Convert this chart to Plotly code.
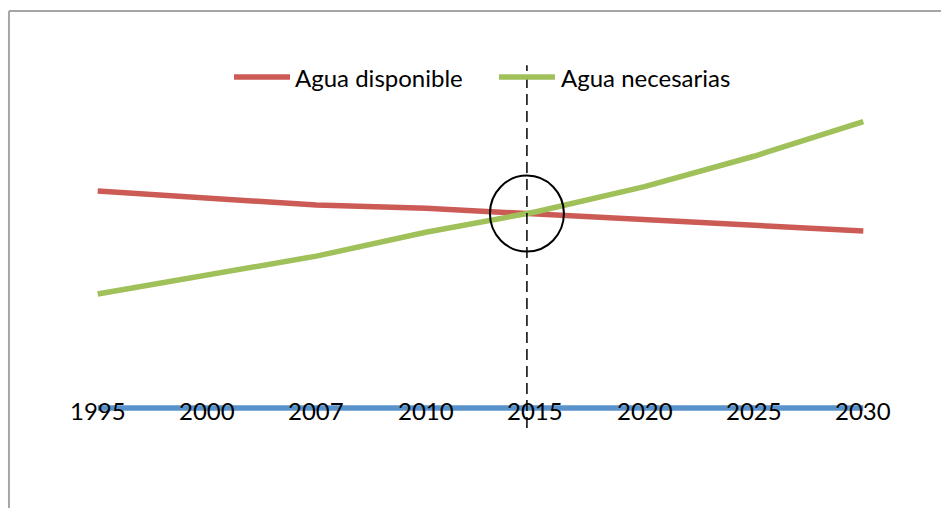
import plotly.graph_objects as go

# Years shown along the axis
years = ["1995", "2000", "2007", "2010", "2015", "2020", "2025", "2030"]

# Water available vs. water required (relative units)
agua_disponible = [100, 97, 93.5, 92, 89.4, 86.6, 84.3, 81.6]
agua_necesarias = [52.5, 61, 70, 81, 90.3, 102, 116, 132]
base = [0, 0, 0, 0, 0, 0, 0, 0]

RED = "#cc5b56"
GREEN = "#a0c05a"
BLUE = "#5a93cb"
FONT = "Lato"

idx = list(range(len(years)))

fig = go.Figure()
fig.add_trace(go.Scatter(x=idx, y=base, mode="lines",
                         line=dict(color=BLUE, width=5.5), showlegend=False))
fig.add_trace(go.Scatter(x=idx, y=agua_disponible, mode="lines", name="Agua disponible",
                         line=dict(color=RED, width=5.5), showlegend=False))
fig.add_trace(go.Scatter(x=idx, y=agua_necesarias, mode="lines", name="Agua necesarias",
                         line=dict(color=GREEN, width=5.5), showlegend=False))

# Where the two curves cross (linear interpolation between neighbouring years)
xc, yc = None, None
for i in range(len(idx) - 1):
    d0 = agua_disponible[i] - agua_necesarias[i]
    d1 = agua_disponible[i + 1] - agua_necesarias[i + 1]
    if d0 > 0 >= d1:
        t = d0 / (d0 - d1)
        xc = idx[i] + t
        yc = agua_disponible[i] + t * (agua_disponible[i + 1] - agua_disponible[i])
        break

FRAME = dict(color="#a6a6a6", width=2)
shapes = [
    # outer chart frame: top edge across the page, left edge down the page
    dict(type="line", xref="paper", yref="paper", x0=-0.0389, x1=1.03, y0=1.01875, y1=1.01875,
         line=FRAME, layer="below"),
    dict(type="line", xref="paper", yref="paper", x0=-0.0389, x1=-0.0389, y0=1.01875, y1=-0.02,
         line=FRAME, layer="below"),
    # dashed marker through the crossing point
    dict(type="line", xref="x", yref="y", x0=xc, x1=xc, y0=-9.2, y1=158,
         line=dict(color="black", width=1.5, dash="11px,6px")),
    # circle around the crossing point
    dict(type="circle", xref="x", yref="y", xsizemode="pixel", ysizemode="pixel",
         xanchor=xc, yanchor=yc, x0=-37, x1=37, y0=-38, y1=38,
         line=dict(color="black", width=2)),
    # legend swatches
    dict(type="line", xref="paper", yref="paper", x0=0.2183, x1=0.2823, y0=0.881, y1=0.881,
         line=dict(color=RED, width=5.5)),
    dict(type="line", xref="paper", yref="paper", x0=0.5211, x1=0.5851, y0=0.881, y1=0.881,
         line=dict(color=GREEN, width=5.5)),
]

annotations = [
    dict(xref="paper", yref="paper", x=0.2857, y=0.881, text="Agua disponible",
         showarrow=False, xanchor="left", yanchor="middle",
         font=dict(family=FONT, size=24, color="black")),
    dict(xref="paper", yref="paper", x=0.5897, y=0.881, text="Agua necesarias",
         showarrow=False, xanchor="left", yanchor="middle",
         font=dict(family=FONT, size=24, color="black")),
]
for i, lab in zip(idx, years):
    annotations.append(dict(x=i, y=0, xref="x", yref="y", text=lab, showarrow=False,
                            xanchor="center", yanchor="middle", yshift=-3,
                            font=dict(family=FONT, size=24, color="black")))

fig.update_layout(
    width=941, height=508,
    margin=dict(l=43, r=23, t=20, b=8),
    paper_bgcolor="white", plot_bgcolor="white",
    xaxis=dict(range=[-0.5, 7.5], visible=False, fixedrange=True),
    yaxis=dict(range=[-42.4, 178.8], visible=False, fixedrange=True),
    shapes=shapes, annotations=annotations,
    showlegend=False,
)

fig.write_html("out.html", config={"displayModeBar": False},
               post_script="document.body.style.margin='0';document.body.style.overflow='hidden';")
